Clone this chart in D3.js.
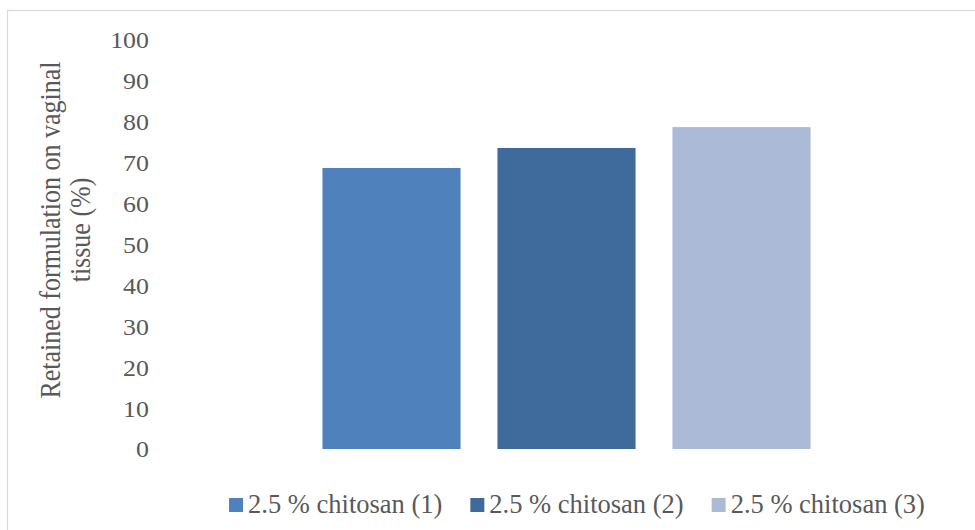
<!DOCTYPE html>
<html><head><meta charset="utf-8">
<script src="https://cdn.jsdelivr.net/npm/d3@7"></script>
<style>body{margin:0;background:#fff}svg{display:block}</style>
</head><body>
<svg id="chart" width="975" height="530"></svg>
<script>
const categories = ["2.5 % chitosan (1)", "2.5 % chitosan (2)", "2.5 % chitosan (3)"];
const values = [68.7, 73.6, 78.7];
const colors = ["#4F81BD", "#3F6A9C", "#AABAD7"];
const yTicks = [0,10,20,30,40,50,60,70,80,90,100];
const yTitle = ["Retained formulation on vaginal", "tissue (%)"];

const svg = d3.select("#chart");
const font = "'Liberation Serif', 'Times New Roman', serif";
const textColor = "#595959";

svg.append("rect").attr("x",7.5).attr("y",10.5).attr("width",990).attr("height",540)
  .attr("fill","#fff").attr("stroke","#d9d9d9").attr("stroke-width",1.2);

const y = d3.scaleLinear().domain([0,100]).range([449,40]);
const x = d3.scaleBand().domain(categories).range([216.5,916.5]).paddingInner(0.211).paddingOuter(0.6055);

svg.append("g").selectAll("rect").data(values).join("rect")
  .attr("x",(d,i)=>x(categories[i]))
  .attr("width",x.bandwidth())
  .attr("y",d=>y(d))
  .attr("height",d=>y(0)-y(d))
  .attr("fill",(d,i)=>colors[i]);

const yAxis = svg.append("g").attr("transform","translate(149,0)")
  .call(d3.axisLeft(y).tickValues(yTicks).tickSize(0).tickPadding(0).tickFormat(d3.format("d")));
yAxis.select(".domain").remove();
yAxis.selectAll(".tick text").attr("font-family",font).attr("font-size",24).attr("fill",textColor)
  .attr("text-anchor","end").attr("x",0).attr("dy","0.33em")
  .attr("transform","scale(1.08,1)");

const title = svg.append("text").attr("transform","translate(0,230) scale(1.1,1) rotate(-90)")
  .attr("font-family",font).attr("font-size",26).attr("fill",textColor).attr("text-anchor","middle");
title.selectAll("tspan").data(yTitle).join("tspan")
  .attr("x",0).attr("y",(d,i)=>i===0?54.5:81.5).text(d=>d);

// legend
const lg = svg.append("g");
const items = lg.selectAll("g").data(categories).join("g");
items.append("rect").attr("width",14).attr("height",14).attr("y",498).attr("fill",(d,i)=>colors[i]);
items.append("text").attr("x",19).attr("y",513).attr("font-family",font).attr("font-size",26.5)
  .attr("fill",textColor).text(d=>d);
let widths = [];
items.each(function(){ widths.push(19 + d3.select(this).select("text").node().getComputedTextLength()); });
const gap = 28;
const total = d3.sum(widths) + gap*(widths.length-1);
let cx = 577 - total/2;
items.each(function(d,i){ d3.select(this).attr("transform",`translate(${cx},0)`); cx += widths[i] + gap; });
</script>
</body></html>
